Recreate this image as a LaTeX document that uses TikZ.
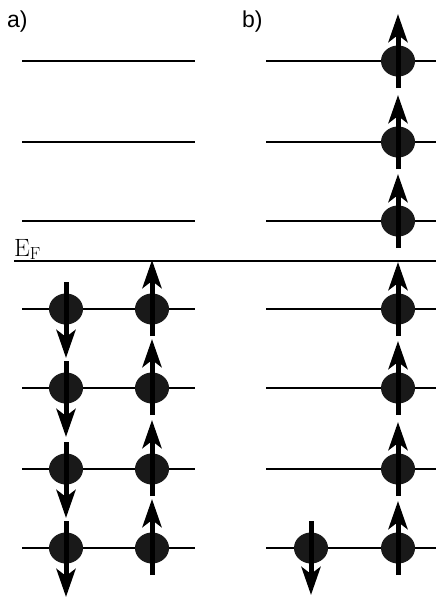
\documentclass[tikz,border=0pt]{standalone}
\usepackage{fontspec}
\newfontfamily\labfont{Liberation Sans}
\usetikzlibrary{arrows.meta,shapes.geometric}
\tikzset{
  level/.style={line width=2.2pt},
  fermi/.style={line width=1.6pt},
  electron/.style={ellipse, fill=black!90, draw=black!90, line width=1pt, minimum width=33pt, minimum height=30pt, inner sep=0pt},
  spin/.style={line width=5pt, -{Stealth[length=28pt, width=19pt, inset=7pt]}},
  panellabel/.style={font=\labfont\fontsize{23}{23}\selectfont, inner sep=0pt, anchor=north west},
}
\begin{document}
\begin{tikzpicture}[x=1pt, y=-1pt]
\useasboundingbox (0,0) rectangle (436,597);
% panel labels
\node[panellabel] (la) at (7,11) {a)};
\node[panellabel] (lb) at (242,11) {b)};
% Fermi level
\coordinate (efl) at (14,261);
\coordinate (efr) at (436,261);
\draw[fermi] (efl) -- (efr);
\node[font=\fontsize{25}{25}\selectfont, inner sep=0pt, anchor=base west] (ef) at (14,256) {E$_\mathrm{F}$};
% panel a: empty levels
\foreach \y [count=\i] in {61,142,221} {
  \coordinate (al\i) at (22,\y);
  \coordinate (ar\i) at (195,\y);
  \draw[level] (al\i) -- (ar\i);
}
% panel a: occupied levels
\foreach \y [count=\i] in {309,388,469,548} {
  \coordinate (bl\i) at (22,\y);
  \coordinate (br\i) at (195,\y);
  \draw[level] (bl\i) -- (br\i);
  \node[electron] (ed\i) at (66,\y) {};
  \node[electron] (eu\i) at (152,\y) {};
  \coordinate (ds\i) at (66,\y-27);
  \coordinate (dt\i) at (66,\y+49);
  \coordinate (us\i) at (152,\y+27);
  \coordinate (ut\i) at (152,\y-49);
  \draw[spin] (ds\i) -- (dt\i);
  \draw[spin] (us\i) -- (ut\i);
}
% panel b
\foreach \y [count=\i] in {61,142,221,309,388,469,548} {
  \coordinate (cl\i) at (266,\y);
  \coordinate (cr\i) at (436,\y);
  \draw[level] (cl\i) -- (cr\i);
  \node[electron] (fu\i) at (398,\y) {};
  \coordinate (fs\i) at (398,\y+27);
  \coordinate (ft\i) at (398,\y-47);
  \draw[spin] (fs\i) -- (ft\i);
}
\node[electron] (fd) at (311,548) {};
\coordinate (fds) at (311,521);
\coordinate (fdt) at (311,595);
\draw[spin] (fds) -- (fdt);
\end{tikzpicture}
\end{document}
